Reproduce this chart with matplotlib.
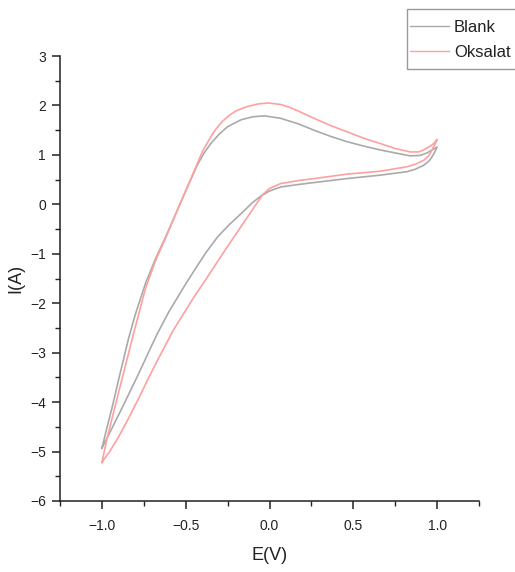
import matplotlib
matplotlib.use("Agg")
import matplotlib.pyplot as plt
from matplotlib.ticker import MultipleLocator
from matplotlib.patches import Rectangle
from matplotlib import font_manager

# Blank: forward scan (-1.0 -> 1.0) then reverse (1.0 -> -1.0)
blank_fwd_E = [-1.0, -0.97, -0.94, -0.89, -0.84, -0.80, -0.74, -0.68, -0.62, -0.55, -0.49,
               -0.43, -0.39, -0.35, -0.30, -0.25, -0.17, -0.10, -0.03, 0.066, 0.17, 0.265,
               0.36, 0.46, 0.56, 0.66, 0.75, 0.84, 0.90, 0.94, 0.97, 1.0]
blank_fwd_I = [-4.93, -4.52, -4.12, -3.40, -2.70, -2.22, -1.60, -1.10, -0.66, -0.12, 0.35,
               0.80, 1.04, 1.23, 1.42, 1.57, 1.71, 1.77, 1.79, 1.74, 1.63, 1.50,
               1.38, 1.27, 1.18, 1.10, 1.04, 0.98, 0.99, 1.04, 1.10, 1.16]
blank_rev_E = [1.0, 0.985, 0.97, 0.95, 0.92, 0.87, 0.82, 0.66, 0.46, 0.265, 0.17, 0.066,
               0.0, -0.05, -0.10, -0.17, -0.24, -0.31, -0.38, -0.44, -0.50, -0.55, -0.60,
               -0.67, -0.72, -0.78, -0.83, -0.88, -0.93, -0.98, -1.0]
blank_rev_I = [1.16, 1.05, 0.96, 0.87, 0.79, 0.71, 0.66, 0.59, 0.52, 0.44, 0.40, 0.35,
               0.27, 0.17, 0.04, -0.19, -0.41, -0.66, -0.98, -1.29, -1.61, -1.89, -2.17,
               -2.62, -2.98, -3.42, -3.77, -4.12, -4.46, -4.80, -4.93]

# Oksalat
oks_fwd_E = [-1.0, -0.97, -0.93, -0.87, -0.81, -0.74, -0.68, -0.62, -0.55, -0.49, -0.43,
             -0.40, -0.37, -0.34, -0.32, -0.28, -0.24, -0.20, -0.14, -0.07, -0.01, 0.066,
             0.12, 0.17, 0.265, 0.36, 0.46, 0.56, 0.66, 0.75, 0.84, 0.89, 0.92, 0.96,
             0.98, 1.0]
oks_fwd_I = [-5.22, -4.75, -4.20, -3.40, -2.60, -1.70, -1.14, -0.68, -0.12, 0.35, 0.83,
             1.07, 1.25, 1.42, 1.52, 1.68, 1.80, 1.89, 1.97, 2.03, 2.05, 2.02,
             1.96, 1.89, 1.74, 1.60, 1.47, 1.34, 1.23, 1.13, 1.06, 1.06, 1.10, 1.18,
             1.23, 1.31]
oks_rev_E = [1.0, 0.985, 0.97, 0.95, 0.92, 0.87, 0.82, 0.66, 0.46, 0.265, 0.17, 0.066,
             0.0, -0.04, -0.08, -0.14, -0.20, -0.26, -0.32, -0.38, -0.44, -0.49, -0.54,
             -0.58, -0.61, -0.66, -0.72, -0.78, -0.84, -0.90, -0.95, -1.0]
oks_rev_I = [1.31, 1.20, 1.10, 0.98, 0.89, 0.81, 0.76, 0.67, 0.61, 0.52, 0.48, 0.42,
             0.32, 0.20, 0.0, -0.30, -0.60, -0.90, -1.21, -1.52, -1.82, -2.09, -2.36,
             -2.58, -2.78, -3.10, -3.50, -3.92, -4.32, -4.70, -4.98, -5.22]

series_names = ["Blank", "Oksalat"]
x_ticks = [-1.0, -0.5, 0.0, 0.5, 1.0]
y_ticks = [-6, -5, -4, -3, -2, -1, 0, 1, 2, 3]

names = {f.name for f in font_manager.fontManager.ttflist}
if 'Liberation Sans Narrow' in names:
    plt.rcParams['font.family'] = ['Liberation Sans Narrow', 'Liberation Sans', 'DejaVu Sans']
    fs_tick, fs_lab, fs_leg = 12, 16, 15
else:
    plt.rcParams['font.family'] = ['Liberation Sans', 'DejaVu Sans']
    fs_tick, fs_lab, fs_leg = 10, 13, 12

fig = plt.figure(figsize=(5.15, 5.72), dpi=100)
ax = fig.add_axes([60/515, 1 - 501/572, (479 - 60)/515, (501 - 56)/572])

c_blank = '#aaaaaa'
c_oks = '#ffa0a0'
ax.plot(blank_fwd_E + blank_rev_E, blank_fwd_I + blank_rev_I, color=c_blank, lw=1.2,
        label=series_names[0], solid_joinstyle='round')
ax.plot(oks_fwd_E + oks_rev_E, oks_fwd_I + oks_rev_I, color=c_oks, lw=1.2,
        label=series_names[1], solid_joinstyle='round')

ax.set_xlim(-1.25, 1.25)
ax.set_ylim(-6, 3)
ax.set_xticks(x_ticks)
ax.set_yticks(y_ticks)
ax.set_xticklabels([f"{v:.1f}".replace('-', '\u2212') for v in x_ticks])
ax.set_yticklabels([str(v).replace('-', '\u2212') for v in y_ticks])
ax.xaxis.set_minor_locator(MultipleLocator(0.25))
ax.yaxis.set_minor_locator(MultipleLocator(0.5))
ax.tick_params(which='major', direction='out', length=6, width=1.1, labelsize=fs_tick,
               color='#222222', labelcolor='#222222')
ax.tick_params(axis='x', which='major', pad=7)
ax.tick_params(axis='y', which='major', pad=4)
ax.tick_params(which='minor', direction='out', length=3.5, width=1.0, color='#222222')
for s in ['top', 'right']:
    ax.spines[s].set_visible(False)
for s in ['left', 'bottom']:
    ax.spines[s].set_linewidth(1.1)
    ax.spines[s].set_color('#222222')

ax.set_xlabel("E(V)", fontsize=fs_lab, labelpad=10, color='#222222')
ax.set_ylabel("I(A)", fontsize=fs_lab, labelpad=4, color='#222222')

# legend: box frame drawn separately so that it runs off the right edge
fig.patches.append(Rectangle((407/515, 1 - 69/572), 130/515, 60/572,
                             transform=fig.transFigure, facecolor='white',
                             edgecolor='#999999', linewidth=1.0, zorder=5))
px = fs_leg * 100 / 72.0
leg = fig.legend(loc='upper left', bbox_to_anchor=(410/515, 1 - 20/572),
                 bbox_transform=fig.transFigure, fontsize=fs_leg,
                 frameon=False, handlelength=39/px,
                 borderpad=0, labelspacing=0.6, handletextpad=5/px,
                 borderaxespad=0)
leg.set_zorder(6)
for t in leg.get_texts():
    t.set_color('#222222')
for h in leg.get_lines():
    h.set_linewidth(1.0)

fig.savefig("out.png", dpi=100)
